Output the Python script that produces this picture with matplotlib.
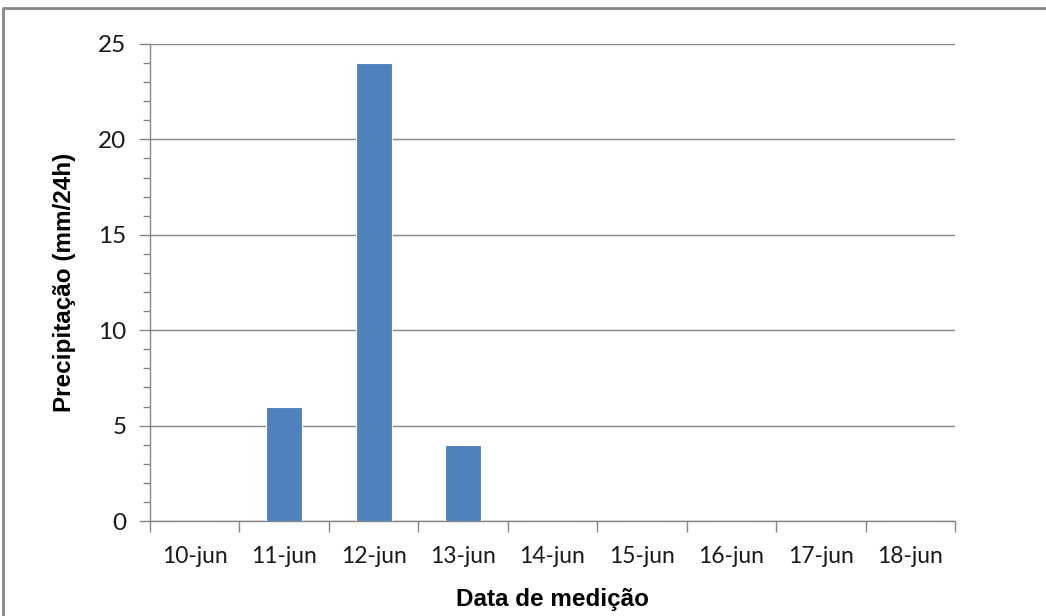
import matplotlib
matplotlib.use("Agg")
import matplotlib.pyplot as plt
from matplotlib.lines import Line2D
from matplotlib.ticker import MultipleLocator, FixedLocator

dates = ['10-jun', '11-jun', '12-jun', '13-jun', '14-jun',
         '15-jun', '16-jun', '17-jun', '18-jun']
precip = [0, 6, 24, 4, 0, 0, 0, 0, 0]

grey = '#868686'
tick_font = 'Lato'
label_font = 'Liberation Sans'

fig = plt.figure(figsize=(10.46, 6.16), dpi=100)
ax = fig.add_axes([150 / 1046, 95 / 616, 805 / 1046, 477 / 616])

x = list(range(len(dates)))
ax.bar(x, precip, width=0.4, color='#4F81BD', edgecolor='white', linewidth=0.8, zorder=3)

ax.set_xlim(-0.5, len(dates) - 0.5)
ax.set_ylim(0, 25)

# category boundaries get the tick marks, centres get the labels
ax.xaxis.set_major_locator(FixedLocator([i - 0.5 for i in range(len(dates) + 1)]))
ax.xaxis.set_major_formatter(plt.NullFormatter())
ax.xaxis.set_minor_locator(FixedLocator(x))
ax.set_xticks(x, dates, minor=True)
ax.tick_params(axis='x', which='major', length=8, width=1, color=grey, direction='out')
ax.tick_params(axis='x', which='minor', length=0, pad=18, labelsize=16.5)

ax.yaxis.set_major_locator(MultipleLocator(5))
ax.yaxis.set_minor_locator(MultipleLocator(1))
ax.tick_params(axis='y', which='major', length=8, width=1, color=grey, pad=9, labelsize=17.5)
ax.tick_params(axis='y', which='minor', length=5, width=1, color=grey)

for lab in ax.get_xticklabels(minor=True) + ax.get_yticklabels():
    lab.set_family(tick_font)
    lab.set_color('#1a1a1a')

ax.grid(axis='y', which='major', color=grey, linewidth=1, zorder=0)
for side in ('top', 'right'):
    ax.spines[side].set_visible(False)
for side in ('left', 'bottom'):
    ax.spines[side].set_color(grey)
    ax.spines[side].set_linewidth(1)

ax.set_xlabel('Data de medição', fontsize=17.5, fontweight='bold', family=label_font, labelpad=15)
ax.set_ylabel('Precipitação (mm/24h)', fontsize=17.5, fontweight='bold', family=label_font, labelpad=16)

# outer chart frame
fig.add_artist(Line2D([3 / 1046, 3 / 1046, 1.0], [0.0, 1 - 8 / 616, 1 - 8 / 616],
                      transform=fig.transFigure, color=grey, linewidth=2))

fig.savefig('out.png', dpi=100)
